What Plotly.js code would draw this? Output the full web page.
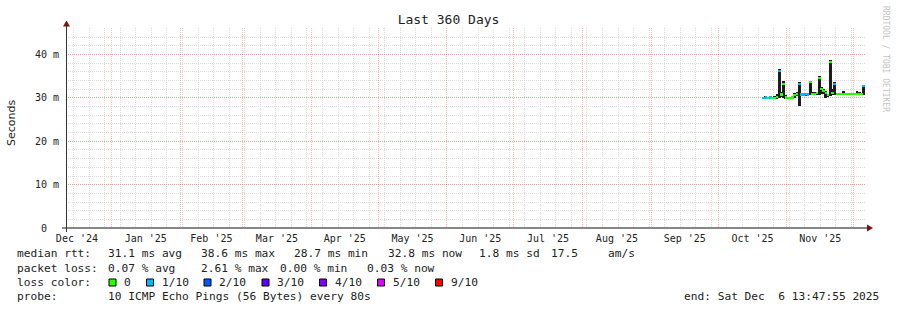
<!DOCTYPE html>
<html><head><meta charset="utf-8">
<script src="https://cdn.plot.ly/plotly-3.0.1.min.js"></script>
<style>html,body{margin:0;padding:0;background:#fff;} #chart{width:897px;height:310px;}</style>
</head><body><div id="chart"></div>
<script>
// ---- data ----
const days = ['2025-10-21','2025-10-22','2025-10-23','2025-10-24','2025-10-25','2025-10-26','2025-10-27','2025-10-28','2025-10-29','2025-10-30','2025-10-31',
'2025-11-01','2025-11-02','2025-11-03','2025-11-04','2025-11-05','2025-11-06','2025-11-07','2025-11-08','2025-11-09','2025-11-10',
'2025-11-11','2025-11-12','2025-11-13','2025-11-14','2025-11-15','2025-11-16','2025-11-17','2025-11-18','2025-11-19','2025-11-20',
'2025-11-21','2025-11-22','2025-11-23','2025-11-24','2025-11-25','2025-11-26','2025-11-27','2025-11-28','2025-11-29','2025-11-30',
'2025-12-01','2025-12-02','2025-12-03','2025-12-04','2025-12-05'];
const medianMs = [30.0,30.1,30.0,30.1,30.0,30.0,30.2,36.2,30.8,33.3,30.1,
30.0,30.0,30.1,30.6,30.9,33.2,30.8,30.8,30.9,30.8,
33.6,31.0,31.0,31.1,34.6,32.1,31.6,31.2,30.6,38.4,
31.2,33.3,31.0,30.9,30.9,31.0,30.9,30.9,31.0,30.9,
30.9,31.0,30.9,30.9,32.8];
const smokeLowMs = [29.8,29.8,29.8,29.8,29.8,29.8,29.8,30.0,30.2,30.0,29.8,
29.8,29.8,29.8,30.0,30.4,28.1,30.5,30.5,30.5,30.5,
30.6,30.7,30.7,30.7,30.8,31.0,30.9,30.0,30.2,30.5,
30.8,30.7,30.7,30.7,30.7,30.7,30.7,30.7,30.7,30.7,
30.7,30.7,30.7,30.7,30.8];
const smokeHighMs = [30.3,30.4,30.3,30.4,30.3,30.4,31.0,36.8,31.4,33.9,30.6,
30.3,30.3,30.4,31.2,31.3,33.6,31.1,31.1,31.2,31.1,
33.9,31.3,31.3,31.4,35.0,32.6,32.0,31.6,31.0,38.7,
32.0,33.6,31.2,31.2,31.1,31.5,31.2,31.1,31.2,31.1,
31.2,31.5,31.4,31.2,32.9];
const lossLevel = [1,1,0,1,0,0,0,1,0,0,0,
0,0,0,0,0,1,1,1,1,1,
0,0,0,0,0,0,0,0,0,0,
0,1,0,0,0,0,0,0,0,0,
0,0,0,0,1];
const lossLabels = ['0','1/10','2/10','3/10','4/10','5/10','9/10'];
const lossColors = ['#26ff00','#00b8ff','#0059ff','#5e00ff','#7e00ff','#dd00ff','#ff0000'];
const yTickVals = [0,10,20,30,40];
const yTickText = ['0  ','10 m','20 m','30 m','40 m'];
const rttStats = ['31.1 ms avg','38.6 ms max','28.7 ms min','32.8 ms now','1.8 ms sd','17.5','am/s'];
const lossStats = ['0.07 % avg','2.61 % max','0.00 % min','0.03 % now'];
const probeText = '10 ICMP Echo Pings (56 Bytes) every 80s';
const endText = 'end: Sat Dec  6 13:47:55 2025';
const rangeStart = '2024-12-11 13:47:55';
const rangeEnd = '2025-12-06 13:47:55';
const yTop = 46.15;

// ---- layout helpers ----
const L = 66, T = 28, PW = 800, PH = 200;
const px = x => (x - L) / PW;
const py = y => (T + PH - y) / PH;
const nb = s => s.replace(/ /g, '\u00a0');
const MONO = 'DejaVu Sans Mono';
const DAY = 86400000;

const smoke = {
  type: 'bar', x: days, base: smokeLowMs,
  y: smokeHighMs.map((h, i) => h - smokeLowMs[i]),
  xperiod: DAY, xperiodalignment: 'middle', width: 1.25 * DAY,
  marker: {color: '#1c1c1c', line: {width: 0}}, hoverinfo: 'skip'
};
const median = {
  type: 'bar', x: days, base: medianMs.map(v => v - 0.25),
  y: medianMs.map(() => 0.5),
  xperiod: DAY, xperiodalignment: 'middle', width: 1.2 * DAY,
  marker: {color: lossLevel.map(i => lossColors[i]), line: {width: 0}}, hoverinfo: 'skip'
};

const ann = [];
function txt(x, y, s, opt) {
  ann.push(Object.assign({x: px(x), y: py(y), xref: 'paper', yref: 'paper', text: nb(s), showarrow: false,
    xanchor: 'left', yanchor: 'middle', borderpad: 0,
    font: {family: MONO, size: 11.2, color: '#222'}}, opt || {}));
}
// legend lines
txt(16, 254, 'median rtt:');
[107, 200, 293, 386.5, 478, 550, 606.5].forEach((x, i) => txt(x, 254, rttStats[i]));
txt(16, 268, 'packet loss:');
[107, 200, 279, 366].forEach((x, i) => txt(x, 268, lossStats[i]));
txt(16, 282.5, 'loss color:');
const boxX = [109, 146.5, 204, 262, 319.5, 377.5, 435.5];
const shapes = [];
boxX.forEach((bx, i) => {
  shapes.push({type: 'rect', xref: 'paper', yref: 'paper', x0: px(bx), x1: px(bx + 7), y0: py(286), y1: py(279),
    fillcolor: lossColors[i], line: {color: '#000', width: 1}});
  txt(bx + 14, 282.5, lossLabels[i]);
});
txt(16, 296.5, 'probe:');
txt(107, 296.5, probeText);
txt(880, 296.5, endText, {xanchor: 'right'});
// y title
ann.push({x: px(11), y: py(123), xref: 'paper', yref: 'paper', text: 'Seconds', showarrow: false, textangle: -90,
  xanchor: 'center', yanchor: 'middle', font: {family: 'DejaVu Sans', size: 11, color: '#222'}});
// side credit
ann.push({x: px(886), y: py(59), xref: 'paper', yref: 'paper', text: nb('RRDTOOL / TOBI OETIKER'), showarrow: false, textangle: 90,
  xanchor: 'center', yanchor: 'middle', font: {family: MONO, size: 8, color: '#c4c4c4'}});

// axis lines and arrows
shapes.push({type: 'line', xref: 'paper', yref: 'paper', x0: px(62), x1: px(868), y0: 0, y1: 0, line: {color: '#111', width: 1}});
shapes.push({type: 'line', xref: 'paper', yref: 'paper', x0: px(66.5), x1: px(66.5), y0: py(232), y1: py(25), line: {color: '#333', width: 1}});
shapes.push({type: 'path', xref: 'paper', yref: 'paper',
  path: `M ${px(873)} ${py(228)} L ${px(867)} ${py(224.5)} L ${px(867)} ${py(231.5)} Z`, fillcolor: '#7a1010', line: {width: 0}});
shapes.push({type: 'path', xref: 'paper', yref: 'paper',
  path: `M ${px(66.5)} ${py(20.5)} L ${px(63)} ${py(26.5)} L ${px(70)} ${py(26.5)} Z`, fillcolor: '#7a1010', line: {width: 0}});

const layout = {
  width: 897, height: 310,
  margin: {l: L, r: 897 - L - PW, t: T, b: 310 - T - PH},
  paper_bgcolor: '#fff', plot_bgcolor: '#fff',
  showlegend: false, barmode: 'overlay', bargap: 0,
  title: {text: 'Last 360 Days', x: 0.5, xref: 'container', xanchor: 'center', y: 1 - 19 / 310, yref: 'container', yanchor: 'middle',
    font: {family: MONO, size: 13, color: '#222'}},
  xaxis: {
    type: 'date', range: [rangeStart, rangeEnd], fixedrange: true,
    dtick: 'M1', tick0: '2025-01-01', ticklabelmode: 'period', tickformat: "%b '%y",
    ticks: 'outside', ticklen: 1, tickcolor: 'rgba(0,0,0,0)',
    tickfont: {family: MONO, size: 10, color: '#222'},
    showgrid: true, gridcolor: 'rgba(255,0,0,0.27)', griddash: '1px,1px', gridwidth: 1,
    minor: {tickmode: 'linear', tick0: '2024-12-15', dtick: 7 * DAY, showgrid: true, gridcolor: '#dcdcdc', griddash: '1px,1px', gridwidth: 1},
    zeroline: false, showline: false
  },
  yaxis: {
    range: [0, yTop], fixedrange: true,
    tickmode: 'array', tickvals: yTickVals, ticktext: yTickText.map(nb),
    ticks: 'outside', ticklen: 4, tickcolor: 'rgba(0,0,0,0)',
    tickfont: {family: MONO, size: 10, color: '#222'},
    showgrid: true, gridcolor: 'rgba(255,0,0,0.27)', griddash: '1px,1px', gridwidth: 1,
    minor: {tickmode: 'linear', tick0: 0, dtick: 2, showgrid: true, gridcolor: '#dcdcdc', griddash: '1px,1px', gridwidth: 1},
    zeroline: false, showline: false
  },
  annotations: ann, shapes: shapes
};
Plotly.newPlot('chart', [smoke, median], layout, {staticPlot: true, displayModeBar: false});
</script></body></html>
